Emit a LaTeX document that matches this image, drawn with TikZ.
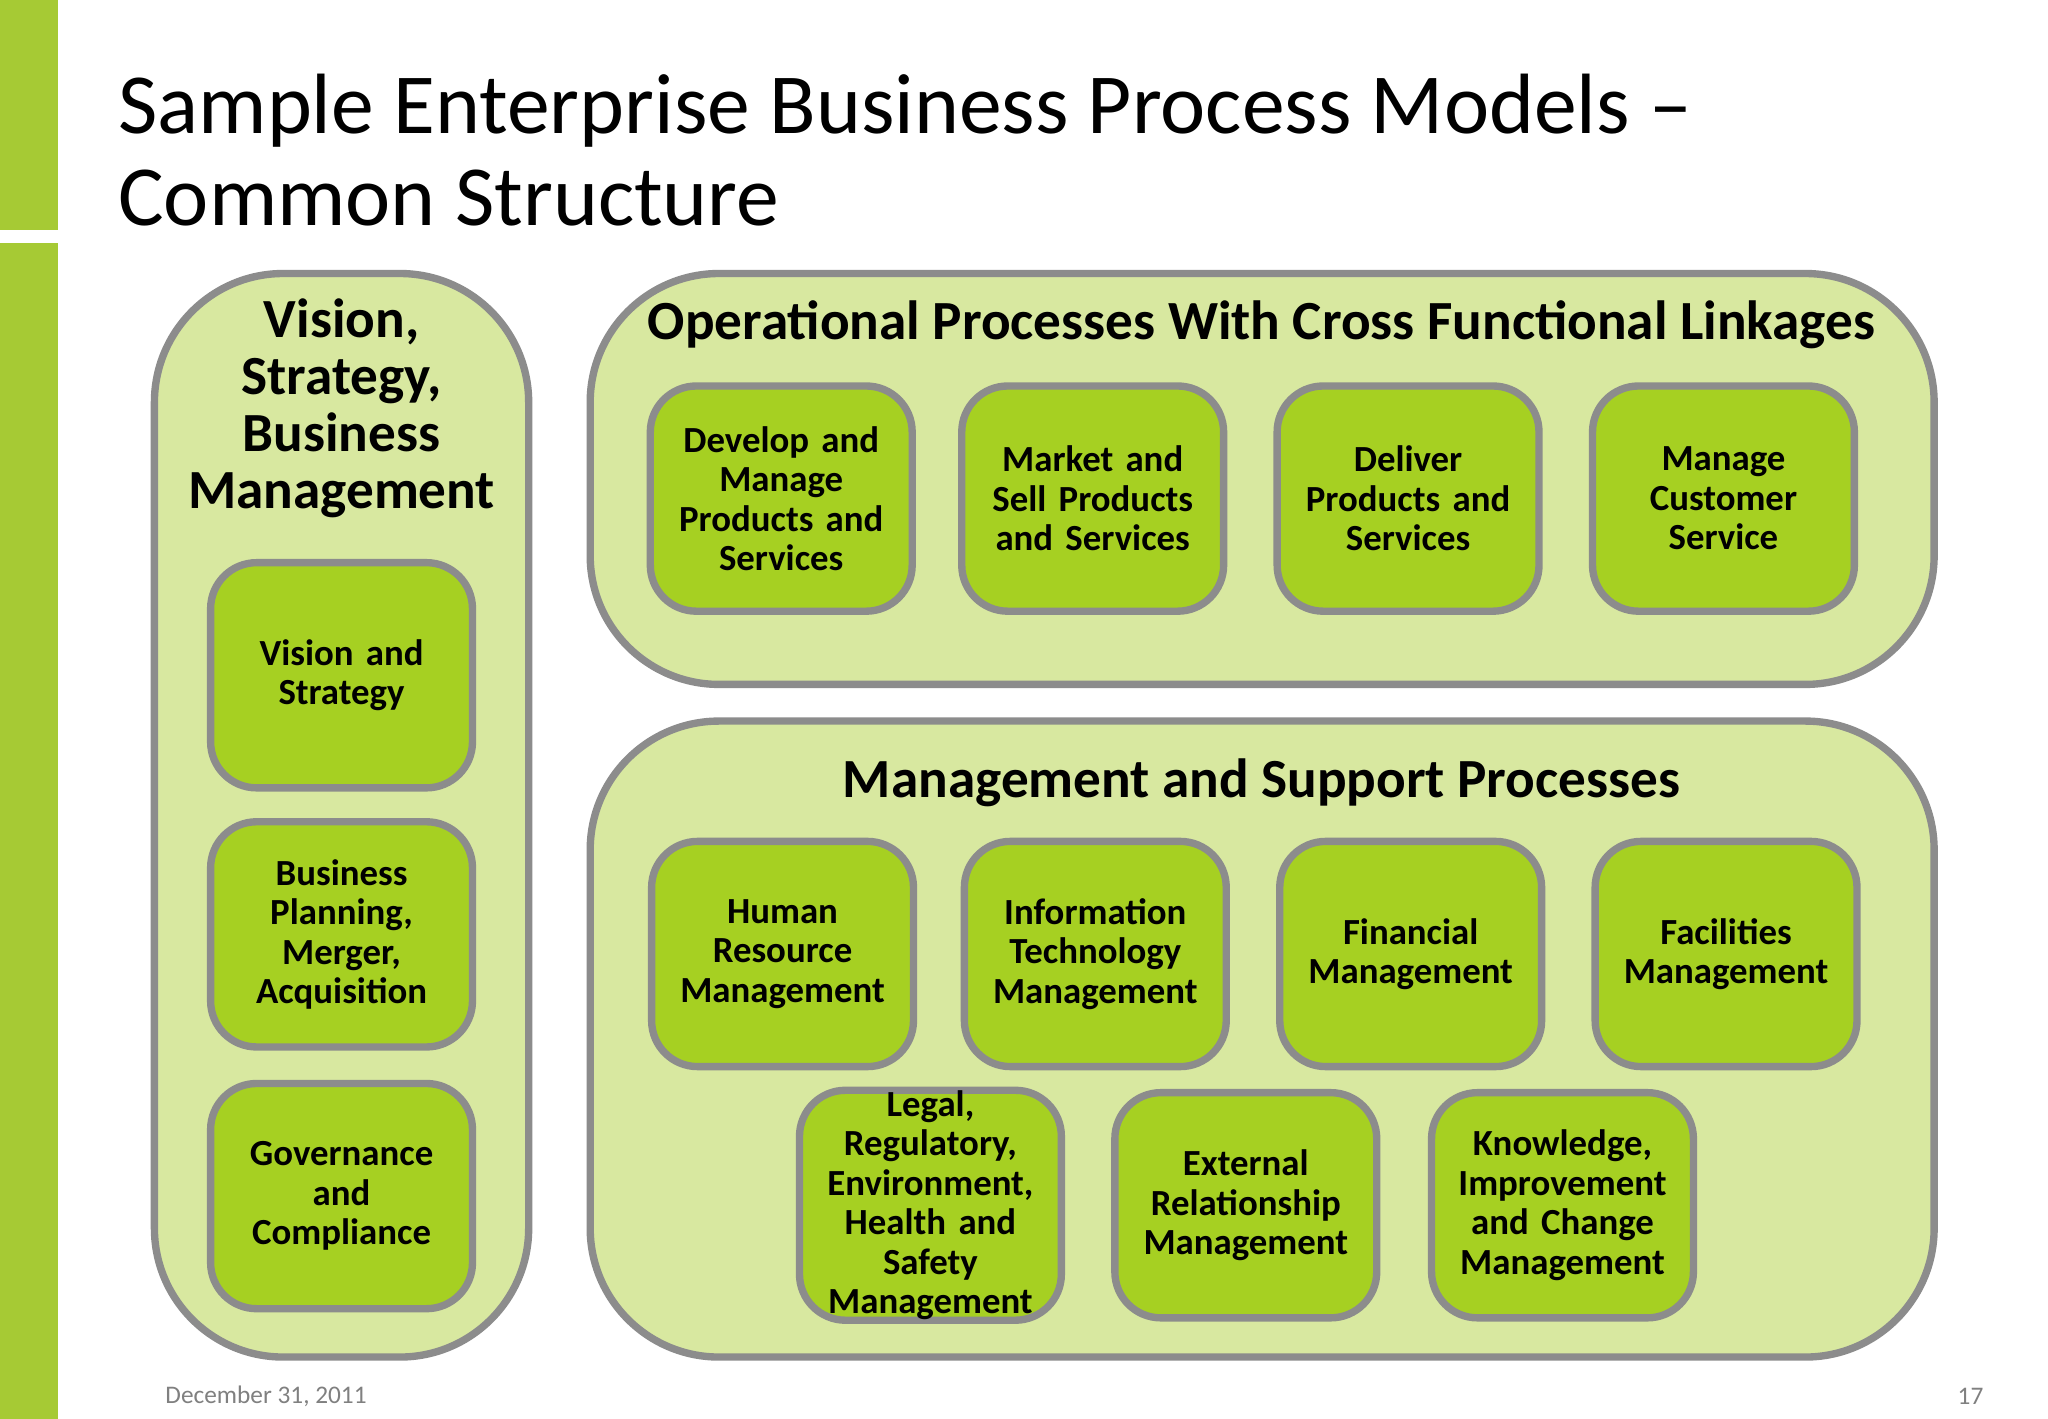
\documentclass[tikz,border=0pt]{standalone}
\usepackage{fontspec}
\setmainfont{Carlito}
\usetikzlibrary{positioning}
\definecolor{barGreen}{RGB}{166,202,52}
\definecolor{panelGreen}{RGB}{216,232,160}
\definecolor{boxGreen}{RGB}{166,208,34}
\definecolor{edgeGray}{RGB}{140,140,140}
\tikzset{
    panel/.style={draw=edgeGray,line width=1.6pt,fill=panelGreen,rounded corners=28pt},
    process/.style={rectangle,draw=edgeGray,line width=1.6pt,fill=boxGreen,rounded corners=10pt,
        minimum width=2cm,minimum height=1.72cm,text width=1.9cm,align=center,
        font=\fontsize{8pt}{8.6pt}\selectfont\bfseries,inner sep=0pt},
    heading/.style={align=center,font=\fontsize{12pt}{12.4pt}\selectfont\bfseries}
}
\begin{document}
\begin{tikzpicture}[x=0.01cm,y=-0.01cm]
    \useasboundingbox (0,0) rectangle (1565,1084);
    \fill[white] (0,0) rectangle (1565,1084);
    % side bar
    \fill[barGreen] (0,0) rectangle (44,176);
    \fill[barGreen] (0,186) rectangle (44,1084);
    \node[anchor=north west,align=left,font=\fontsize{18.6pt}{20pt}\selectfont] (title) at (78,44)
        {Sample Enterprise Business Process Models --\\Common Structure};
    % panels
    \draw[panel] (118,209) rectangle (404,1037);
    \draw[panel] (451,209) rectangle (1478,523);
    \draw[panel] (451,551) rectangle (1478,1037);
    \node[heading] (vsbm) at (261,312) {Vision,\\Strategy,\\Business\\Management};
    \node[heading] (ops) at (964,248) {Operational Processes With Cross Functional Linkages};
    \node[heading] (msp) at (964,598) {Management and Support Processes};
    % left column
    \node[process] (vs) at (261,516) {Vision and\\Strategy};
    \node[process] (bpma) at (261,714) {Business\\Planning,\\Merger,\\Acquisition};
    \node[process] (gc) at (261,914) {Governance\\and\\Compliance};
    % operational
    \node[process] (dmps) at (597,381) {Develop and\\Manage\\Products and\\Services};
    \node[process] (msps) at (835,381) {Market and\\Sell Products\\and Services};
    \node[process] (dps) at (1076,381) {Deliver\\Products and\\Services};
    \node[process] (mcs) at (1317,381) {Manage\\Customer\\Service};
    % management and support
    \node[process] (hrm) at (598,729) {Human\\Resource\\Management};
    \node[process] (itm) at (837,729) {Information\\Technology\\Management};
    \node[process] (fm) at (1078,729) {Financial\\Management};
    \node[process] (fam) at (1319,729) {Facilities\\Management};
    \node[process] (lre) at (711,921) {Legal,\\Regulatory,\\Environment,\\Health and\\Safety\\Management};
    \node[process] (erm) at (952,921) {External\\Relationship\\Management};
    \node[process] (kicm) at (1194,921) {Knowledge,\\Improvement\\and Change\\Management};
    % footer
    \node[anchor=west,text=gray,font=\fontsize{5.5pt}{6pt}\selectfont] (date) at (114,1067) {December 31, 2011};
    \node[anchor=east,text=gray,font=\fontsize{5.5pt}{6pt}\selectfont] (page) at (1528,1067) {17};
\end{tikzpicture}
\end{document}
